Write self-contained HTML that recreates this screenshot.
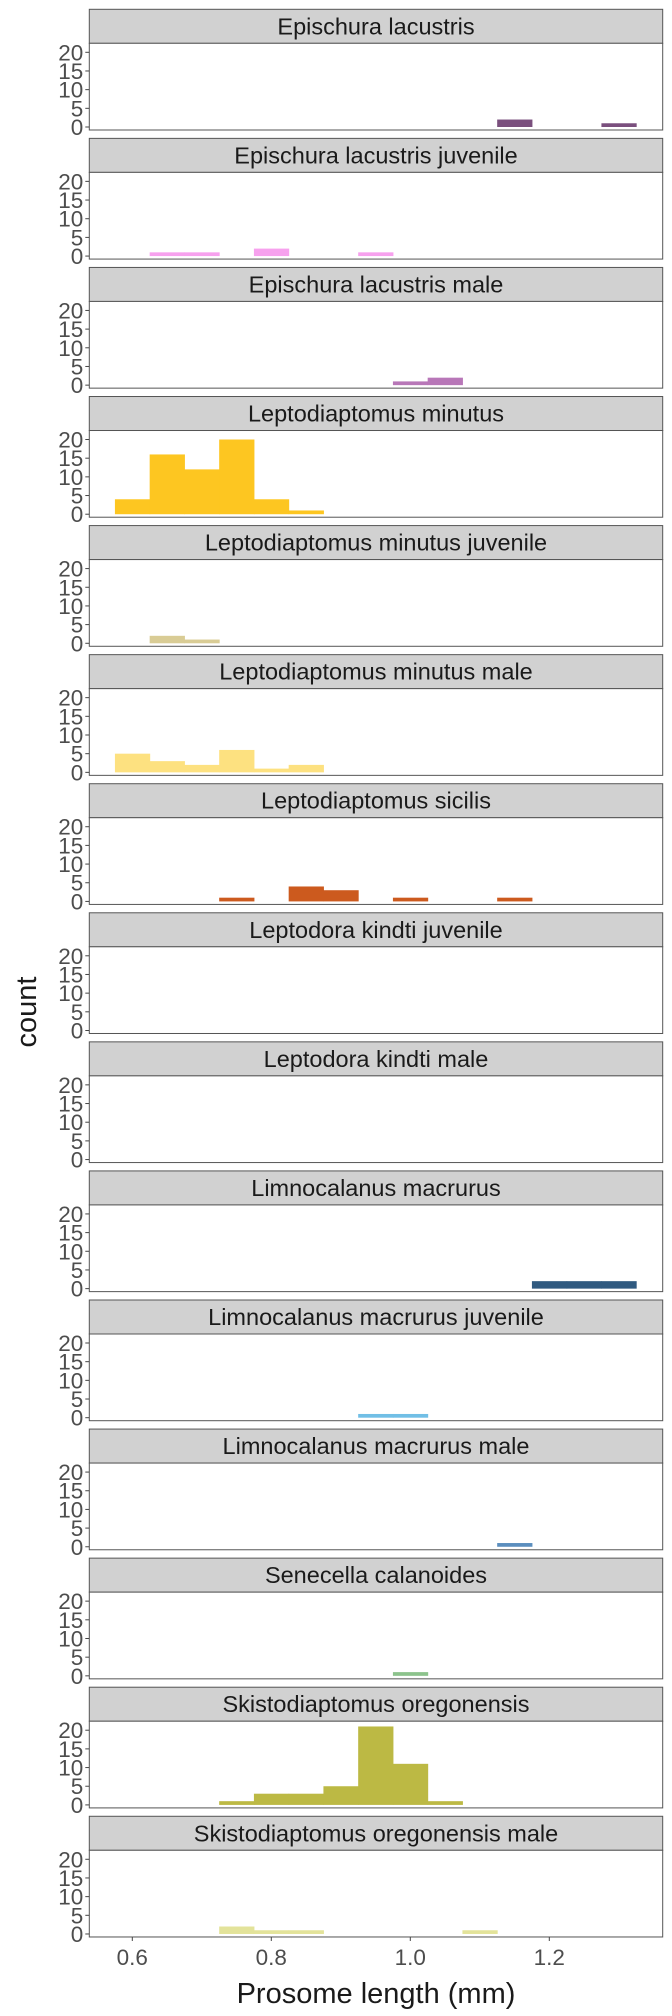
<!DOCTYPE html>
<html><head><meta charset="utf-8"><style>
html,body{margin:0;padding:0;background:#fff;}
svg{display:block;font-family:"Liberation Sans",sans-serif;}
</style></head><body>
<svg id="chart" width="672" height="2016" viewBox="0 0 672 2016"></svg>
<script>
const panelNames = ["Epischura lacustris","Epischura lacustris juvenile","Epischura lacustris male","Leptodiaptomus minutus","Leptodiaptomus minutus juvenile","Leptodiaptomus minutus male","Leptodiaptomus sicilis","Leptodora kindti juvenile","Leptodora kindti male","Limnocalanus macrurus","Limnocalanus macrurus juvenile","Limnocalanus macrurus male","Senecella calanoides","Skistodiaptomus oregonensis","Skistodiaptomus oregonensis male"];
const panelColors = ["#7a4f7d","#f7a1ee","#b877b8","#fdc621","#d9cc95","#fde180","#cc5a1e","#999","#999","#305a80","#71bfe6","#5b8ebe","#8cc38c","#bcb944","#e3e39a"];
// bin centers (mm) and counts per panel; bin width 0.05
const binCenters = [
  [1.15,1.30],
  [0.65,0.70,0.80,0.95],
  [1.00,1.05],
  [0.60,0.65,0.70,0.75,0.80,0.85],
  [0.65,0.70],
  [0.60,0.65,0.70,0.75,0.80,0.85],
  [0.75,0.85,0.90,1.00,1.15],
  [],
  [],
  [1.20,1.25,1.30],
  [0.95,1.00],
  [1.15],
  [1.00],
  [0.75,0.80,0.85,0.90,0.95,1.00,1.05],
  [0.75,0.80,0.85,1.10]
];
const binCounts = [
  [2,1],
  [1,1,2,1],
  [1,2],
  [4,16,12,20,4,1],
  [2,1],
  [5,3,2,6,1,2],
  [1,4,3,1,1],
  [],
  [],
  [2,2,2],
  [1,1],
  [1],
  [1],
  [1,3,3,5,21,11,1],
  [2,1,1,1]
];
const binWidth = 0.05;
const yTicks = [0,5,10,15,20];
const xTicks = [0.6,0.8,1.0,1.2];
const xTickLabels = ["0.6","0.8","1.0","1.2"];

const NS="http://www.w3.org/2000/svg";
const svg=document.getElementById('chart');
function mk(tag,attrs,parent){const e=document.createElementNS(NS,tag);for(const k in attrs)e.setAttribute(k,attrs[k]);(parent||svg).appendChild(e);return e;}
const L=89.3,R=662.7,PERIOD=129.07,STRIP_TOP0=9.3,STRIP_H=34,PANEL_H=86.7;
function x(v){return 132.3+(v-0.6)*695;}
function yScale(c){return c*3.735;}

panelNames.forEach((name,i)=>{
  const st=STRIP_TOP0+i*PERIOD, pt=st+STRIP_H, pb=pt+PANEL_H, y0=pb-3;
  const g=mk('g',{});
  
  
  const strip=mk('rect',{x:L,y:st,width:R-L,height:STRIP_H,fill:'#d1d1d1',stroke:'#555','stroke-width':1},g);
  
  
  const t=mk('text',{x:(L+R)/2,y:st+STRIP_H/2+8,'text-anchor':'middle','font-size':23.5,fill:'#1a1a1a'},g);
  t.textContent=name;
  
  
  const bg=mk('rect',{x:L,y:pt,width:R-L,height:PANEL_H,fill:'#fff',stroke:'#555','stroke-width':1},g);
  
  
  binCenters[i].forEach((c,j)=>{
    const h=yScale(binCounts[i][j]);
    const b=mk('rect',{x:x(c-binWidth/2),y:y0-h,width:x(c+binWidth/2)-x(c-binWidth/2)+0.5,height:h,fill:panelColors[i]},g);
    
    
  });
  yTicks.forEach(v=>{
    const yy=y0-yScale(v);
    mk('line',{x1:L-4,x2:L,y1:yy,y2:yy,stroke:'#444','stroke-width':1},g);
    const tl=mk('text',{x:L-6,y:yy+8,'text-anchor':'end','font-size':22.5,fill:'#4d4d4d'},g);
    tl.textContent=v;
    
    
  });
  if(i===panelNames.length-1){
    xTicks.forEach((v,k)=>{
      mk('line',{x1:x(v),x2:x(v),y1:pb,y2:pb+4,stroke:'#444','stroke-width':1},g);
      const xl=mk('text',{x:x(v),y:pb+28,'text-anchor':'middle','font-size':22.5,fill:'#4d4d4d'},g);
      xl.textContent=xTickLabels[k];
      
      
    });
  }
});
const xt=mk('text',{x:(L+R)/2,y:2003,'text-anchor':'middle','font-size':29,fill:'#1a1a1a'});
xt.textContent='Prosome length (mm)';


const yt=mk('text',{x:0,y:0,'text-anchor':'middle','font-size':29,fill:'#1a1a1a',transform:'translate(36,1012) rotate(-90)'});
yt.textContent='count';


</script>
</body></html>
